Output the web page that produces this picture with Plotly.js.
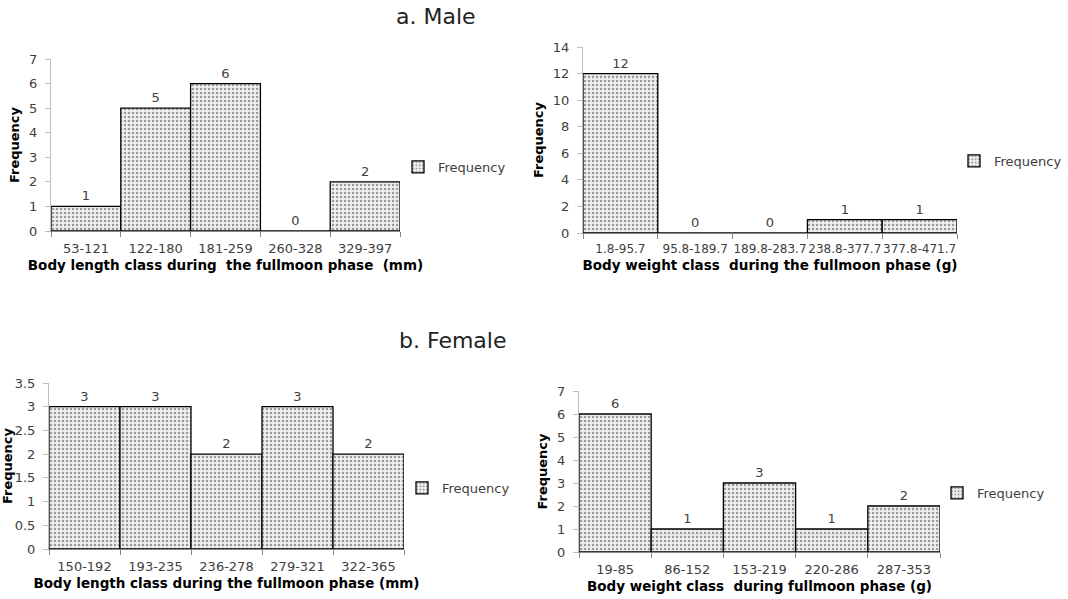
<!DOCTYPE html>
<html>
<head>
<meta charset="utf-8">
<script src="https://cdn.plot.ly/plotly-3.0.1.min.js"></script>
<style>html,body{margin:0;padding:0;background:#fff;}#chart{width:1068px;height:599px;}</style>
</head>
<body>
<div id="chart"></div>
<script>
// Data
const maleLengthClasses = ["53-121", "122-180", "181-259", "260-328", "329-397"];
const maleLengthFreq = [1, 5, 6, 0, 2];
const maleWeightClasses = ["1.8-95.7", "95.8-189.7", "189.8-283.7", "238.8-377.7", "377.8-471.7"];
const maleWeightFreq = [12, 0, 0, 1, 1];
const femaleLengthClasses = ["150-192", "193-235", "236-278", "279-321", "322-365"];
const femaleLengthFreq = [3, 3, 2, 3, 2];
const femaleWeightClasses = ["19-85", "86-152", "153-219", "220-286", "287-353"];
const femaleWeightFreq = [6, 1, 3, 1, 2];

const W = 1068, H = 599;
const FONT = "DejaVu Sans, Verdana, sans-serif";
const TXT = "#404040";

function px(x) { return x / W; }
function py(y) { return 1 - y / H; }

function barTrace(cats, vals, xa, ya, leg) {
  return {
    type: "bar", x: cats, y: vals, xaxis: xa, yaxis: ya,
    name: "Frequency", legend: leg,
    text: vals.map(String), textposition: "outside", cliponaxis: false,
    textfont: {family: FONT, size: 13, color: TXT},
    marker: {
      color: "#ffffff",
      line: {color: "#000000", width: 1.3},
      pattern: {shape: ".", fgcolor: "#9a9a9a", bgcolor: "#efefef", size: 4, solidity: 0.3}
    },
    hoverinfo: "skip"
  };
}

const data = [
  barTrace(maleLengthClasses, maleLengthFreq, "x", "y", "legend"),
  barTrace(maleWeightClasses, maleWeightFreq, "x2", "y2", "legend2"),
  barTrace(femaleLengthClasses, femaleLengthFreq, "x3", "y3", "legend3"),
  barTrace(femaleWeightClasses, femaleWeightFreq, "x4", "y4", "legend4")
];

function xax(d0, d1, anchor, title, tsize) {
  return {
    domain: [px(d0), px(d1)], anchor: anchor, type: "category",
    showline: true, linecolor: "#868686", linewidth: 1,
    ticks: "outside", tickson: "boundaries", ticklen: 5, tickcolor: "#868686",
    ticklabelstandoff: 5,
    tickangle: 0, showgrid: false, zeroline: false, fixedrange: true,
    tickfont: {family: FONT, size: tsize || 13, color: TXT},
    title: {text: title, font: {family: FONT, size: 13.5, color: "#000", weight: "bold"}, standoff: 5}
  };
}
function yax(d0, d1, anchor, range, dtick) {
  return {
    domain: [py(d1), py(d0)], anchor: anchor, range: range, dtick: dtick,
    showline: true, linecolor: "#bfbfbf", linewidth: 1,
    ticks: "outside", ticklen: 5, tickcolor: "#bfbfbf",
    ticklabelstandoff: 5,
    showgrid: false, zeroline: false, fixedrange: true,
    tickfont: {family: FONT, size: 13, color: TXT},
    title: {text: "Frequency", font: {family: FONT, size: 13, color: "#000", weight: "bold"}, standoff: 6}
  };
}
function leg(x, y) {
  return {
    x: px(x), y: py(y), xanchor: "left", yanchor: "middle",
    font: {family: FONT, size: 13, color: TXT}, bgcolor: "rgba(0,0,0,0)",
    itemwidth: 30, tracegroupgap: 0
  };
}

const layout = {
  width: W, height: H,
  margin: {l: 0, r: 0, t: 0, b: 0},
  paper_bgcolor: "#ffffff", plot_bgcolor: "#ffffff",
  bargap: 0,
  showlegend: true,
  xaxis: xax(51, 400, "y", "Body length class during  the fullmoon phase  (mm)"),
  yaxis: yax(59, 231, "x", [0, 7], 1),
  xaxis2: xax(583, 957, "y2", "Body weight class  during the fullmoon phase (g)", 12),
  yaxis2: yax(47, 233, "x2", [0, 14], 2),
  xaxis3: xax(49, 404, "y3", "Body length class during the fullmoon phase (mm)"),
  yaxis3: yax(383, 549, "x3", [0, 3.5], 0.5),
  xaxis4: xax(579, 940, "y4", "Body weight class  during fullmoon phase (g)"),
  yaxis4: yax(391, 552, "x4", [0, 7], 1),
  legend: leg(398, 167),
  legend2: leg(954, 161),
  legend3: leg(402, 488),
  legend4: leg(937, 493),
  annotations: [
    {text: "a. Male", xref: "paper", yref: "paper", x: px(436), y: py(16), showarrow: false,
     xanchor: "center", yanchor: "middle", font: {family: FONT, size: 22, color: "#222"}},
    {text: "b. Female", xref: "paper", yref: "paper", x: px(453), y: py(341), showarrow: false,
     xanchor: "center", yanchor: "middle", font: {family: FONT, size: 22, color: "#222"}}
  ]
};

Plotly.newPlot("chart", data, layout, {displayModeBar: false, staticPlot: true});
</script>
</body>
</html>
